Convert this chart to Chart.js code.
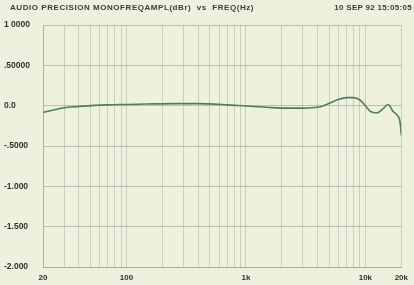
<!DOCTYPE html>
<html>
<head>
<meta charset="utf-8">
<script src="https://cdn.jsdelivr.net/npm/chart.js@4.4.1/dist/chart.umd.min.js"></script>
<style>
  html, body { margin: 0; padding: 0; background: #eff1df; }
  #wrap { position: relative; width: 414px; height: 285px; background: #eff1df; }
  canvas { position: absolute; left: 0; top: 0; }
  .hdr { position: absolute; top: 3px; font: bold 8px "Liberation Sans", Arial, sans-serif; color: #3a3d36; white-space: nowrap; }
</style>
</head>
<body>
<div id="wrap">
  <canvas id="c" width="414" height="285"></canvas>
  <div class="hdr" style="left:10px; letter-spacing:0.55px;">AUDIO PRECISION MONOFREQAMPL(dBr)&nbsp;&nbsp;vs&nbsp;&nbsp;FREQ(Hz)</div>
  <div class="hdr" style="right:2px; letter-spacing:0.3px;">10 SEP 92 15:05:05</div>
</div>
<script>
const freqs = [20, 25, 30, 40, 50, 70, 100, 150, 250, 400, 700, 1000, 1500, 2000, 3000, 4000, 5000, 6000, 7000, 8000, 9000, 10000, 11000, 12500, 14000, 15500, 17000, 18500, 19500, 20000];
const ampl  = [-0.085, -0.05, -0.025, -0.01, 0.0, 0.01, 0.015, 0.02, 0.025, 0.025, 0.01, -0.005, -0.02, -0.03, -0.03, -0.02, 0.03, 0.08, 0.1, 0.1, 0.07, 0.0, -0.07, -0.09, -0.04, 0.015, -0.07, -0.12, -0.2, -0.37];
const xGridFreqs = [20,30,40,50,60,70,80,90,100,200,300,400,500,600,700,800,900,1000,2000,3000,4000,5000,6000,7000,8000,9000,10000,20000];
const xTickLabels = {20:'20', 100:'100', 1000:'1k', 10000:'10k', 20000:'20k'};
const yTickValues = [1.0, 0.5, 0.0, -0.5, -1.0, -1.5, -2.0];
const yTickLabels = {'1':'1 0000', '0.5':'.50000', '0':'0.0', '-0.5':'-.5000', '-1':'-1.000', '-1.5':'-1.500', '-2':'-2.000'};

const points = freqs.map((f, i) => ({x: f, y: ampl[i]}));
const font = {family: '"Liberation Sans", Arial, sans-serif', size: 8.5, weight: 'bold'};

new Chart(document.getElementById('c'), {
  type: 'line',
  data: {
    datasets: [{
      data: points,
      borderColor: '#4f7d5c',
      borderWidth: 1.6,
      pointRadius: 0,
      tension: 0.4,
      cubicInterpolationMode: 'monotone',
      fill: false
    }]
  },
  options: {
    responsive: false,
    animation: false,
    events: [],
    layout: { padding: { top: 25, left: 4, right: 9, bottom: 0 } },
    plugins: { legend: { display: false }, tooltip: { enabled: false } },
    scales: {
      x: {
        type: 'logarithmic',
        min: 20, max: 20000,
        afterBuildTicks: s => { s.ticks = xGridFreqs.map(v => ({value: v})); },
        afterFit: s => { s.height = 18; },
        grid: { color: 'rgba(160,168,150,0.45)', lineWidth: 1, drawTicks: false },
        border: { color: 'rgba(150,160,140,0.6)' },
        ticks: {
          autoSkip: false, maxRotation: 0, padding: 6,
          color: '#2f322c', font: {...font, size: 8},
          callback: v => xTickLabels[v] || ''
        }
      },
      y: {
        min: -2, max: 1,
        afterBuildTicks: s => { s.ticks = yTickValues.map(v => ({value: v})); },
        afterFit: s => { s.width = 39; },
        grid: { color: 'rgba(135,145,125,0.5)', lineWidth: 1, drawTicks: false },
        border: { color: 'rgba(150,160,140,0.6)' },
        ticks: {
          crossAlign: 'far', padding: 4,
          color: '#2f322c', font: font,
          callback: v => yTickLabels[String(v)]
        }
      }
    }
  }
});
</script>
</body>
</html>
